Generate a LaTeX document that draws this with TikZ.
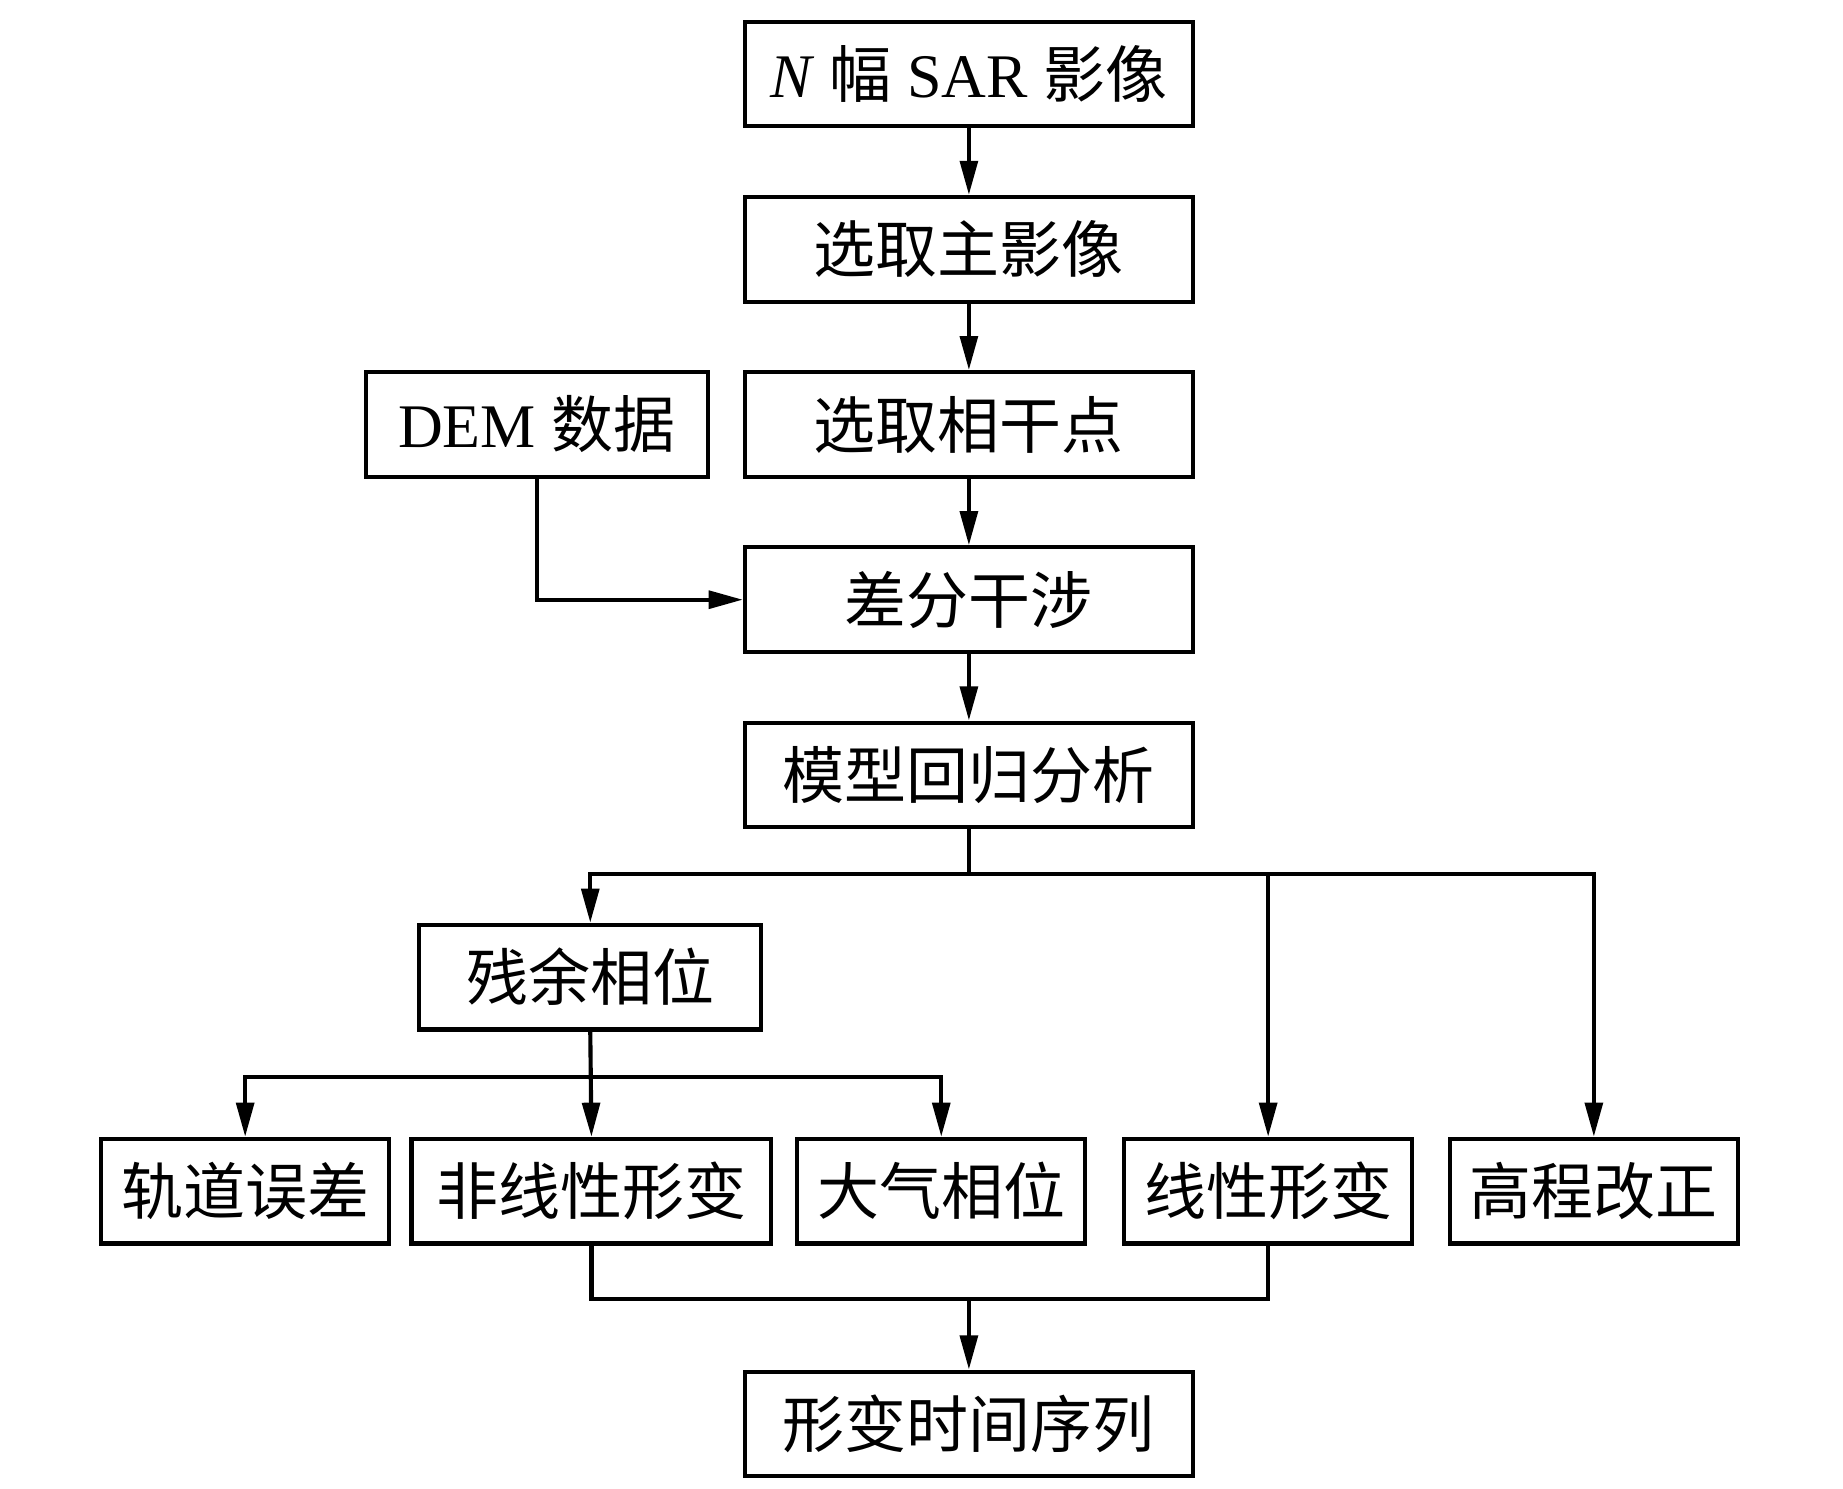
\documentclass[tikz,border=0pt]{standalone}
\usepackage{fontspec}
\setmainfont{Liberation Serif}
\newfontfamily\cjk{Noto Sans CJK SC}
\usetikzlibrary{positioning, arrows.meta, calc}

\begin{document}
\begin{tikzpicture}[>={Triangle[length=2.9mm, width=1.5mm]},
    box/.style={draw, line width=1pt, minimum height=0.89cm, inner sep=0pt,
      font=\fontsize{15}{18}\selectfont},
    link/.style={line width=1pt}]

  \useasboundingbox (0,0) rectangle (15.674,-12.66);

  % --- CONFIGURAÇÕES ---
  \def\dy{1.49}
  \def\xm{8.24}

  % --- COLUNA PRINCIPAL ---
  \node[box, minimum width=3.81cm] (sar)  at (\xm, -0.63) {\textit{N} {\cjk 幅} SAR {\cjk 影像}};
  \node[box, minimum width=3.81cm] (mst)  at (\xm, -0.63-\dy) {\cjk 选取主影像};
  \node[box, minimum width=3.81cm] (coh)  at (\xm, -0.63-2*\dy) {\cjk 选取相干点};
  \node[box, minimum width=2.91cm] (dem)  at (4.565, -0.63-2*\dy) {DEM {\cjk 数据}};
  \node[box, minimum width=3.81cm] (diff) at (\xm, -0.63-3*\dy) {\cjk 差分干涉};
  \node[box, minimum width=3.81cm] (reg)  at (\xm, -0.63-4*\dy) {\cjk 模型回归分析};

  % --- COMPONENTES ---
  \node[box, minimum width=2.91cm] (res) at (5.02, -8.31) {\cjk 残余相位};
  \node[box, minimum width=2.45cm] (orb) at (2.085, -10.13) {\cjk 轨道误差};
  \node[box, minimum width=3.06cm] (nln) at (5.03, -10.13) {\cjk 非线性形变};
  \node[box, minimum width=2.45cm] (atm) at (8.005, -10.13) {\cjk 大气相位};
  \node[box, minimum width=2.45cm] (lin) at (10.785, -10.13) {\cjk 线性形变};
  \node[box, minimum width=2.45cm] (hgt) at (13.555, -10.13) {\cjk 高程改正};

  % --- SAÍDA ---
  \node[box, minimum width=3.81cm] (ts) at (\xm, -12.11) {\cjk 形变时间序列};

  % Pontos de ramificação
  \coordinate (br1)  at (\xm, -7.43);
  \coordinate (br2)  at (5.03, -9.16);
  \coordinate (join) at (\xm, -11.05);

  % --- CONEXÕES ---
  \foreach \a/\b in {sar/mst, mst/coh, coh/diff, diff/reg} {
    \draw[link, ->] (\a) -- (\b);
  }
  \draw[link, ->] (dem.south) |- (diff.west);

  \draw[link, ->] (reg.south) -- (br1) -| (res.north);
  \draw[link, ->] (br1) -| (lin.north);
  \draw[link, ->] (br1) -| (hgt.north);

  \draw[link, ->] (res.south) -- (nln.north);
  \draw[link, ->] (br2) -| (orb.north);
  \draw[link, ->] (br2) -| (atm.north);

  \draw[link] (nln.south) |- (join) -| (lin.south);
  \draw[link, ->] (join) -- (ts.north);

\end{tikzpicture}
\end{document}
